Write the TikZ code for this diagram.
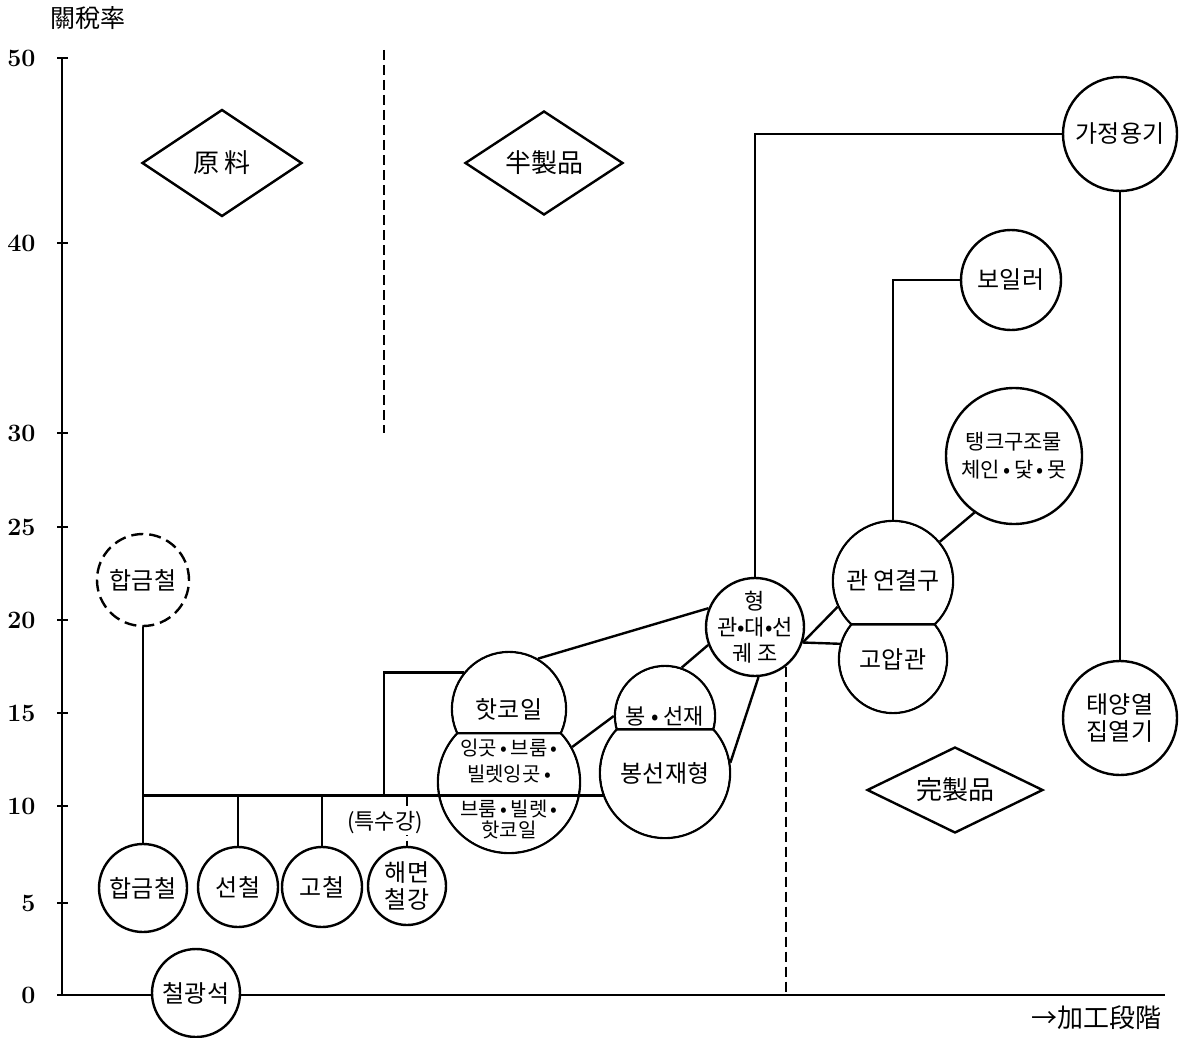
\documentclass[tikz,border=0pt]{standalone}
\usepackage{fontspec}
\newfontfamily\kr{Noto Sans CJK KR}
\usepackage{tikz}
\usetikzlibrary{positioning}
\usetikzlibrary{shapes.geometric,intersections}

\tikzset{
  ware/.style={circle, draw, fill=white, inner sep=0pt, align=center,
    font=\kr\fontsize{24}{27}\selectfont},
  halfware/.style={circle, inner sep=0pt, align=center,
    font=\kr\fontsize{24}{27}\selectfont},
  ingotlabel/.style={align=center, inner sep=0pt, yshift=-7pt,
    font=\kr\fontsize{20}{26}\selectfont},
  phasebox/.style={diamond, draw, aspect=2, inner sep=0pt,
    font=\kr\fontsize{26}{30}\selectfont},
  ratelabel/.style={anchor=east, font=\bfseries\fontsize{25}{28}\selectfont},
  divline/.style={dash pattern=on 10pt off 5pt},
}

\begin{document}
\begin{tikzpicture}[x=1pt, y=-1pt, line width=2.4pt]
    \useasboundingbox (0,0) rectangle (1188,1038);

    %Axes
    \coordinate (Top) at (62,58);
    \coordinate (O) at (62,995);
    \coordinate (XEnd) at (1165,995);
    \draw (Top) -- (O) -- (XEnd);
    \foreach \val/\yy in {50/58, 40/243, 30/433, 25/527, 20/620, 15/713, 10/806, 5/903, 0/995}{
        \draw (57,\yy) -- (68,\yy);
        \node[ratelabel] (Rate\val) at (40,\yy) {\val};
    }
    \node[font=\kr\fontsize{25}{30}\selectfont] (YLabel) at (88,18) {關稅率};
    \node[font=\kr\fontsize{26}{30}\selectfont] (XLabel) at (1096,1018) {→加工段階};

    %Stages
    \coordinate (DivTop) at (384,50);
    \coordinate (DivBot) at (384,433);
    \draw[divline] (DivTop) -- (DivBot);
    \node[phasebox, minimum width=160pt, minimum height=107pt] (Raw) at (222,163) {原\hspace{6pt}料};
    \node[phasebox, minimum width=158pt, minimum height=104pt] (Semi) at (544,163) {半製品};
    \node[phasebox, minimum width=176pt, minimum height=86pt] (Final) at (955,790) {完製品};

    %Twin circles: outline first, text nodes on top
    \coordinate (HotC) at (509,709);
    \coordinate (IngotC) at (509,782);
    \coordinate (RodWireC) at (665,716);
    \coordinate (RodC) at (665,773);
    \coordinate (JointC) at (893,581);
    \coordinate (PressC) at (893,659);
    \foreach \up/\upr/\low/\lowr in {HotC/57/IngotC/71, RodWireC/50/RodC/65, JointC/60/PressC/54}{
        \draw[name path=U] (\up) circle[radius=\upr pt];
        \draw[name path=L] (\low) circle[radius=\lowr pt];
        \fill[white] (\up) circle[radius=\upr pt-1.2pt] (\low) circle[radius=\lowr pt-1.2pt];
        \draw[name intersections={of=U and L}] (intersection-1) -- (intersection-2);
    }

    %Materials
    \node[ware, dash pattern=on 12pt off 6pt, minimum size=92pt] (AlloyHi) at (143,580) {합금철};
    \node[ware, minimum size=88pt] (Alloy) at (143,888) {합금철};
    \node[ware, minimum size=80pt] (Pig) at (238,887) {선철};
    \node[ware, minimum size=80pt] (Scrap) at (322,887) {고철};
    \node[ware, minimum size=78pt] (Sponge) at (407,886) {해면\\철강};
    \node[ware, minimum size=88pt] (Ore) at (196,993) {철광석};

    %Semi-finished and finished goods
    \node[halfware, minimum size=114pt] (Hot) at (HotC) {핫코일};
    \node[halfware, minimum size=142pt,
          label={[ingotlabel]center:{잉곳\,•\,브룸\,•\\빌렛잉곳\,•\\[9pt]브룸\,•\,빌렛\,•\\[-5pt]핫코일}}] (Ingot) at (IngotC) {};
    \node[halfware, minimum size=100pt, font=\kr\fontsize{22}{26}\selectfont] (RodWire) at (RodWireC) {봉 • 선재};
    \node[halfware, minimum size=130pt] (Rod) at (RodC) {봉선재형};
    \node[ware, minimum size=98pt, inner sep=-5pt, font=\kr\fontsize{22}{26}\selectfont] (Shape) at (755,627)
        {형\\관•대•선\\궤 조};
    \node[halfware, minimum size=120pt] (Joint) at (JointC) {관 연결구};
    \node[halfware, minimum size=108pt] (Press) at (PressC) {고압관};
    \node[ware, minimum size=136pt, font=\kr\fontsize{21}{28}\selectfont] (Tank) at (1014,456) {탱크구조물\\체인\,•\,닻\,•\,못};
    \node[ware, minimum size=100pt] (Boiler) at (1011,280) {보일러};
    \node[ware, minimum size=114pt] (Home) at (1120,134) {가정용기};
    \node[ware, minimum size=114pt] (Solar) at (1120,718) {태양열\\집열기};

    %Connectors
    \coordinate (BusL) at (AlloyHi.south |- Rod.200);
    \draw (AlloyHi.south) |- (Rod.200);
    \foreach \n in {Alloy, Pig, Scrap}{
        \draw (\n.north) -- (\n.north |- BusL);
    }
    \draw[divline] (Sponge.north |- BusL) -- (Sponge.north);
    \node[font=\kr\fontsize{22}{26}\selectfont, fill=white, inner sep=1pt] (Special) at (385,823) {(특수강)};
    \draw (Hot.141) -| (DivBot |- BusL);

    \draw (Shape.158) -- (Hot.60);
    \draw (Shape.201) -- (RodWire.71);
    \draw (Ingot.29) -- (RodWire.180);
    \draw (Shape.-86) -- (Rod.9);
    \draw (Shape.-18) -- (Joint.205);
    \draw (Shape.-18) -- (Press.164);
    \draw[divline] (Shape.-52) -- (Shape.-52 |- O);
    \draw (Shape.north) |- (Home.west);
    \draw (Home.south) -- (Solar.north);
    \draw (Boiler.west) -| (Joint.north);
    \draw (Joint.40) -- (Tank.235);

\end{tikzpicture}
\end{document}
